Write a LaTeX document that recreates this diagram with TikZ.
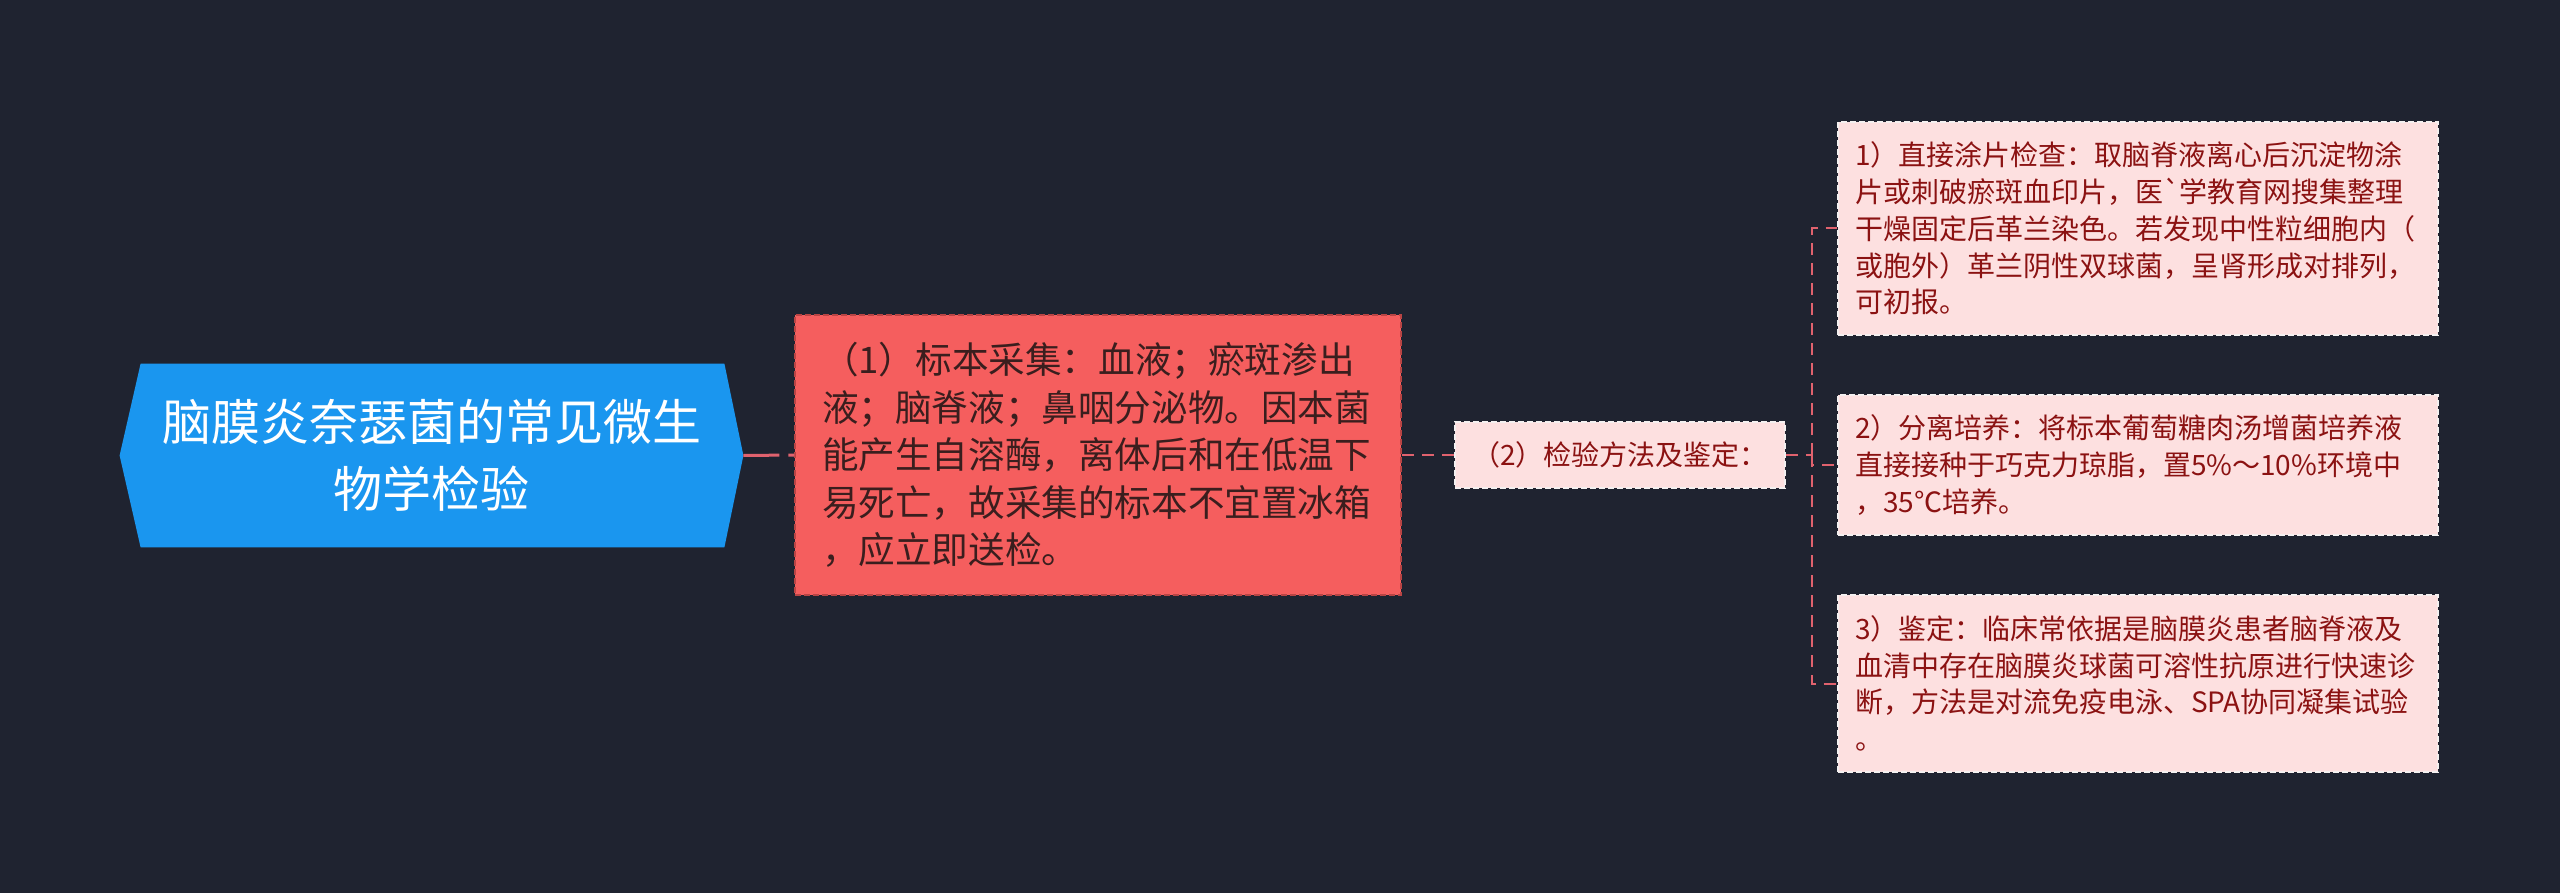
\documentclass[tikz,border=0pt]{standalone}
\usepackage{fontspec}
\setmainfont{Noto Sans CJK SC}[Ligatures=TeXOff]
\definecolor{bgc}{HTML}{1F2330}
\definecolor{rootc}{HTML}{1A96EF}
\definecolor{redc}{HTML}{F55E5E}
\definecolor{redborder}{HTML}{B94444}
\definecolor{redtxt}{HTML}{3A1E1E}
\definecolor{pinkc}{HTML}{FDE0E0}
\definecolor{pinkborder}{HTML}{F4F0F0}
\definecolor{pinktxt}{HTML}{8B1212}
\definecolor{connc}{HTML}{E0626E}
\pgfdeclarelayer{bg}
\pgfsetlayers{bg,main}
\tikzset{
  rootbox/.style={rectangle, inner sep=0pt, minimum width=311.5pt, minimum height=91.5pt,
    text=white, font=\fontsize{24.5pt}{33.5pt}\selectfont, align=center},
  redbox/.style={rectangle, fill=redc, draw=redborder, line width=0.75pt, dash pattern=on 3pt off 1.5pt,
    text=redtxt, font=\fontsize{18.3pt}{23.75pt}\selectfont, text width=276pt, align=left,
    inner xsep=13.5pt, inner ysep=0pt, minimum height=140pt},
  pinkbox/.style={rectangle, fill=pinkc, draw=pinkborder, line width=0.75pt, dash pattern=on 3pt off 1.5pt,
    text=pinktxt, font=\fontsize{14pt}{18.35pt}\selectfont, text width=283pt, align=left,
    inner xsep=8.5pt, inner ysep=0pt},
  midbox/.style={rectangle, fill=pinkc, draw=pinkborder, line width=0.75pt, dash pattern=on 3pt off 1.5pt,
    text=pinktxt, font=\fontsize{14pt}{18pt}\selectfont, inner sep=0pt,
    minimum width=165pt, minimum height=33pt},
  conn/.style={draw=connc, line width=1pt, dash pattern=on 6pt off 4pt},
  rootconn/.style={draw=connc, line width=1.5pt, dash pattern=on 18pt off 4.5pt},
}
\begin{document}
\begin{tikzpicture}[x=0.5pt,y=-0.5pt]
\useasboundingbox (0,0) rectangle (2560,893);

\node[rootbox] (root) at (431.5,455.5) {脑膜炎奈瑟菌的常见微生\\物学检验};
\begin{pgfonlayer}{bg}
\fill[bgc] (0,0) rectangle (2560,893);
\fill[rootc] ([xshift=10.5pt]root.north west) -- ([xshift=-9.5pt]root.north east) -- (root.east)
  -- ([xshift=-9.5pt]root.south east) -- ([xshift=10.5pt]root.south west) -- (root.west) -- cycle;
\end{pgfonlayer}

\node[redbox] (red) at (1098,455) {（1）标本采集：血液；瘀斑渗出\\液；脑脊液；鼻咽分泌物。因本菌\\能产生自溶酶，离体后和在低温下\\易死亡，故采集的标本不宜置冰箱\\，应立即送检。};

\node[midbox] (mid) at (1620,455) {（2）检验方法及鉴定：};

\node[pinkbox, minimum height=106.5pt] (b1) at (2138,228.5) {1）直接涂片检查：取脑脊液离心后沉淀物涂\\片或刺破瘀斑血印片，医`学教育网搜集整理\\干燥固定后革兰染色。若发现中性粒细胞内（\\或胞外）革兰阴性双球菌，呈肾形成对排列，\\可初报。};

\node[pinkbox, minimum height=70pt] (b2) at (2138,465) {2）分离培养：将标本葡萄糖肉汤增菌培养液\\直接接种于巧克力琼脂，置5\%～10\%环境中\\，35℃培养。};

\node[pinkbox, minimum height=88.5pt] (b3) at (2138,683.5) {3）鉴定：临床常依据是脑膜炎患者脑脊液及\\血清中存在脑膜炎球菌可溶性抗原进行快速诊\\断，方法是对流免疫电泳、SPA协同凝集试验\\。};

\coordinate (spine) at (1812,455);

\draw[rootconn] (root.east) -- (red.west);
\draw[conn] (red.east) -- (mid.west);
\draw[conn] (mid.east) -- (spine);
\draw[conn] (spine) |- (b1.west);
\draw[conn] (spine) |- (b2.west);
\draw[conn] (spine) |- (b3.west);
\end{tikzpicture}
\end{document}
